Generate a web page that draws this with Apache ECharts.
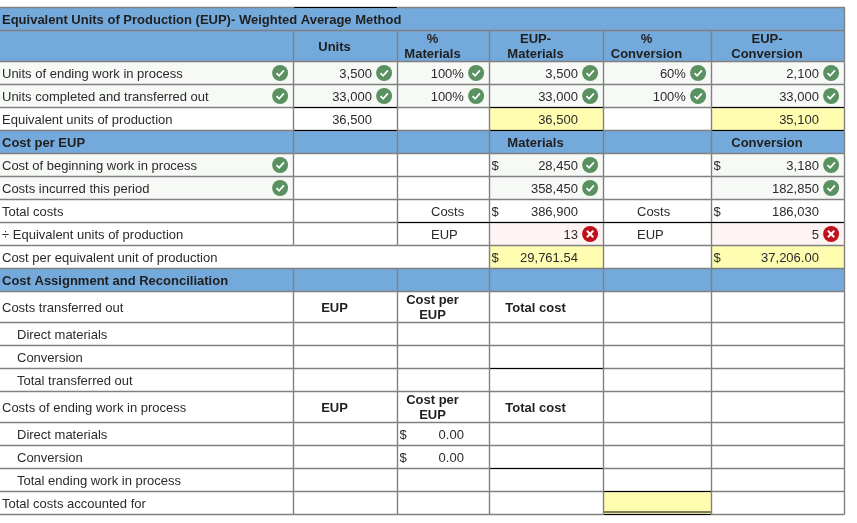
<!DOCTYPE html>
<html><head><meta charset="utf-8">
<script src="https://cdn.jsdelivr.net/npm/echarts@6/dist/echarts.min.js"></script>
<style>html,body{margin:0;padding:0;background:#fff}#c{width:857px;height:523px}</style>
</head><body><div id="c"></div>
<script>
// ---- table content, one list per column ----
const rowLabels = ['Equivalent Units of Production (EUP)- Weighted Average Method','','Units of ending work in process','Units completed and transferred out','Equivalent units of production','Cost per EUP','Cost of beginning work in process','Costs incurred this period','Total costs','÷ Equivalent units of production','Cost per equivalent unit of production','Cost Assignment and Reconciliation','Costs transferred out','Direct materials','Conversion','Total transferred out','Costs of ending work in process','Direct materials','Conversion','Total ending work in process','Total costs accounted for'];
const units         = ['','Units','3,500','33,000','36,500','','','','','','','','EUP','','','','EUP','','','',''];
const pctMaterials  = ['','%\nMaterials','100%','100%','','','','','Costs','EUP','','','Cost per\nEUP','','','','Cost per\nEUP','0.00','0.00','',''];
const eupMaterials  = ['','EUP-\nMaterials','3,500','33,000','36,500','Materials','28,450','358,450','386,900','13','29,761.54','','Total cost','','','','Total cost','','','',''];
const pctConversion = ['','%\nConversion','60%','100%','','','','','Costs','EUP','','','','','','','','','','',''];
const eupConversion = ['','EUP-\nConversion','2,100','33,000','35,100','Conversion','3,180','182,850','186,030','5','37,206.00','','','','','','','','','',''];
const columns = [rowLabels, units, pctMaterials, eupMaterials, pctConversion, eupConversion];

// grading marks, as [column, row]
const correctCells = [[0,2],[0,3],[1,2],[1,3],[2,2],[2,3],[3,2],[3,3],[4,2],[4,3],[5,2],[5,3],[0,6],[0,7],[3,6],[3,7],[5,6],[5,7]];
const wrongCells = [[3,9],[5,9]];
const highlightCells = [[3,4],[5,4],[3,10],[5,10],[4,20]];
const dollarCells = [[3,6],[5,6],[3,8],[5,8],[3,10],[5,10],[2,17],[2,18]];
const headerRows = [0,1,5,11];
const boldRows = [0,1,5,11];
const boldCellRows = [12,16];
const indentedRows = [13,14,15,17,18,19];

// ---- layout scale ----
const colEdges = [0,293.5,397.5,489.5,603.5,711.5,844.5];
const rowEdges = [7.5,30.5,61.5,84.5,107.5,130.5,153.5,176.5,199.5,222.5,245.5,268.5,291.5,322.5,345.5,368.5,391.5,422.5,445.5,468.5,491.5,514.5];
// heavy rules: [row edge index, first col, last col exclusive]
const heavyRules = [[0,1,2],[4,1,2],[4,3,4],[4,5,6],[5,1,2],[5,3,4],[5,5,6],[9,2,6],[15,3,4],[19,3,4],[20,4,5]];

const has = (list, c, r) => list.some(p => p[0] === c && p[1] === r);
const BLUE = '#74a9dc', GRID = '#808080', INK = '#2b2b2b', INK_BOLD = '#1f1f1f';
const FONT = '"Liberation Sans", Arial, sans-serif';

const allCells = [];
rowLabels.forEach((_, r) => colEdges.slice(0,-1).forEach((_, c) => allCells.push([c, r])));

function cellFill(c, r) {
  if (headerRows.includes(r)) return BLUE;
  if (has(highlightCells, c, r)) return '#fefdb0';
  if (has(wrongCells, c, r)) return '#fdf4f3';
  if (has(correctCells, c, r)) return '#f6f9f5';
  return '#ffffff';
}

const fillSeries = {
  type:'custom', z:1, silent:true, clip:false, data:allCells,
  renderItem(p, api){
    const c=api.value(0), r=api.value(1);
    const a=api.coord([colEdges[c],rowEdges[r]]), b=api.coord([colEdges[c+1],rowEdges[r+1]]);
    const x0=Math.floor(a[0]), y0=Math.floor(a[1]), x1=Math.floor(b[0])+1, y1=Math.floor(b[1])+1;
    return {type:'rect',shape:{x:x0,y:y0,width:x1-x0,height:y1-y0},style:{fill:cellFill(c,r)}};
  }
};
const gridSeries = {
  type:'custom', z:2, silent:true, clip:false, data:allCells,
  renderItem(p, api){
    const c=api.value(0), r=api.value(1);
    const a=api.coord([colEdges[c],rowEdges[r]]), b=api.coord([colEdges[c+1],rowEdges[r+1]]);
    const ls={stroke:GRID,lineWidth:1.4,fill:null};
    const kids=[{type:'line',shape:{x1:a[0],y1:b[1],x2:b[0],y2:b[1]},style:ls}];
    if(r===0) kids.push({type:'line',shape:{x1:a[0],y1:a[1],x2:b[0],y2:a[1]},style:ls});
    const merged = (r===0 && c<5) || (r===10 && c<2);
    if(!merged) kids.push({type:'line',shape:{x1:b[0],y1:a[1],x2:b[0],y2:b[1]},style:ls});
    return {type:'group',children:kids};
  }
};
const heavySeries = {
  type:'custom', z:3, silent:true, clip:false, data:heavyRules.concat([[21,4,5]]),
  renderItem(p, api){
    const e=api.value(0), c0=api.value(1), c1=api.value(2);
    const a=api.coord([colEdges[c0],rowEdges[e]]), b=api.coord([colEdges[c1],rowEdges[e]]);
    const kids=[{type:'line',shape:{x1:a[0]+0.7,y1:a[1],x2:b[0]-0.7,y2:a[1]},style:{stroke:'#000',lineWidth:1}}];
    if(e===21) kids.push({type:'line',shape:{x1:a[0]+0.7,y1:a[1]-2.5,x2:b[0]-0.7,y2:a[1]-2.5},style:{stroke:'#000',lineWidth:1}});
    return {type:'group',children:kids};
  }
};
const textSeries = {
  type:'custom', z:4, silent:true, clip:false, data:allCells,
  renderItem(p, api){
    const c=api.value(0), r=api.value(1), s=columns[c][r];
    const a=api.coord([colEdges[c],rowEdges[r]]), b=api.coord([colEdges[c+1],rowEdges[r+1]]);
    const multi=s.indexOf('\n')>=0;
    const y=(a[1]+b[1])/2+(multi?0.5:1), kids=[];
    if(has(dollarCells,c,r)) kids.push({type:'text',style:{text:'$',x:a[0]+2,y:y,fill:INK,font:'13px '+FONT,align:'left',verticalAlign:'middle'}});
    if(s){
      let bold=boldRows.includes(r), x, align;
      if(c===0){ x=indentedRows.includes(r)?17:2; align='left'; }
      else {
        bold = bold || boldCellRows.includes(r);
        if(bold){ x=(a[0]+b[0])/2-11; align='center'; }
        else if(s==='Costs'||s==='EUP'){ x=a[0]+33.5; align='left'; }
        else { x=b[0]-25.6; align='right'; }
      }
      kids.push({type:'text',style:{text:s,x:x,y:y,fill:bold?INK_BOLD:INK,font:(bold?'bold ':'')+'13px '+FONT,lineHeight:15,align:align,verticalAlign:'middle'}});
    }
    return {type:'group',children:kids};
  }
};
const markSeries = {
  type:'custom', z:5, silent:true, clip:false,
  data:correctCells.map(p=>[p[0],p[1],1]).concat(wrongCells.map(p=>[p[0],p[1],0])),
  renderItem(p, api){
    const c=api.value(0), r=api.value(1), ok=api.value(2);
    const a=api.coord([colEdges[c],rowEdges[r]]), b=api.coord([colEdges[c+1],rowEdges[r+1]]);
    const cx=b[0]-13.4, cy=(a[1]+b[1])/2;
    const kids=[{type:'circle',shape:{cx:cx,cy:cy,r:8},style:{fill:ok?'#5a9160':'#c0101c'}}];
    if(ok) kids.push({type:'polyline',shape:{points:[[cx-3.6,cy+0.2],[cx-1,cy+2.8],[cx+3.8,cy-2.6]]},style:{stroke:'#fff',lineWidth:1.7,fill:null}});
    else kids.push(
      {type:'line',shape:{x1:cx-3.2,y1:cy-3.2,x2:cx+3.2,y2:cy+3.2},style:{stroke:'#fff',lineWidth:2}},
      {type:'line',shape:{x1:cx-3.2,y1:cy+3.2,x2:cx+3.2,y2:cy-3.2},style:{stroke:'#fff',lineWidth:2}});
    return {type:'group',children:kids};
  }
};

const chart = echarts.init(document.getElementById('c'));
chart.setOption({
  animation:false,
  backgroundColor:'#ffffff',
  grid:{left:0,right:0,top:0,bottom:0},
  xAxis:{type:'value',min:0,max:857,show:false},
  yAxis:{type:'value',min:0,max:523,inverse:true,show:false},
  series:[fillSeries,gridSeries,heavySeries,textSeries,markSeries]
});
</script></body></html>
